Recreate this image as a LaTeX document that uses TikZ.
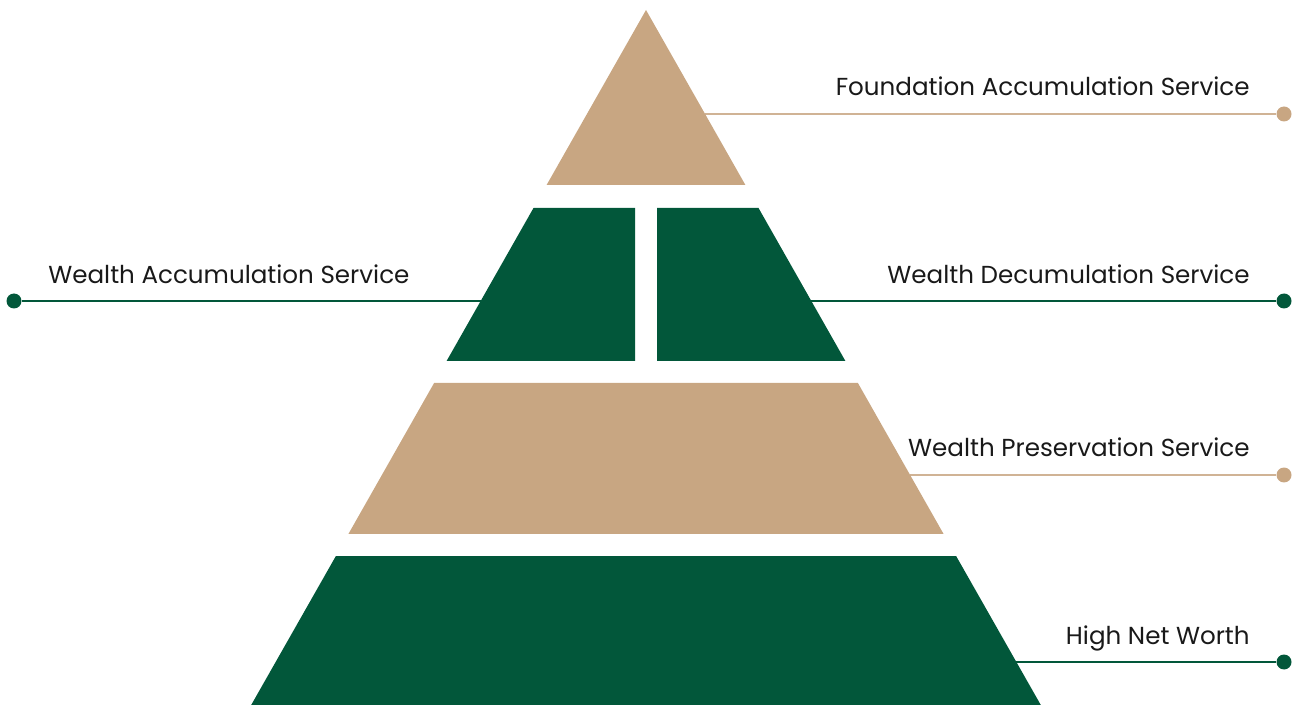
\documentclass[tikz,border=0pt]{standalone}
\usepackage{fontspec}
\setmainfont{Poppins}
\usetikzlibrary{positioning, calc}
\definecolor{sand}{HTML}{C8A682}
\definecolor{forest}{HTML}{02573A}

\begin{document}
\begin{tikzpicture}[x=0.02cm, y=-0.02cm,
    lbl/.style={font=\fontsize{14}{16}\selectfont, inner sep=0pt, text=black!90},
    dot/.style={circle, fill=#1, minimum size=0.3cm, inner sep=0pt},
    lead/.style={draw=#1, line width=0.7pt}]
\useasboundingbox (0,0) rectangle (1298,705);

% Attach points on the pyramid edges
\coordinate (fasedge) at (705,114);
\coordinate (waedge) at (481,301);
\coordinate (wdedge) at (811,301);
\coordinate (wpedge) at (910,475);
\coordinate (hnwedge) at (1016,662);

% Draw the dots
\node[dot=sand] (fasdot) at (1284,114) {};
\node[dot=forest] (wadot) at (14,301) {};
\node[dot=forest] (wddot) at (1284,301) {};
\node[dot=sand] (wpdot) at (1284,475) {};
\node[dot=forest] (hnwdot) at (1284,662) {};

% Connect dots with the tiers
\path[lead=sand!85] (fasdot) -- (fasedge);
\path[lead=forest] (wadot) -- (waedge);
\path[lead=forest] (wddot) -- (wdedge);
\path[lead=sand!85] (wpdot) -- (wpedge);
\path[lead=forest] (hnwdot) -- (hnwedge);

% Draw the tiers
\fill[sand] (646,10) -- (745.4,185) -- (546.6,185) -- cycle;
\fill[forest] (533.5,208) -- (635,208) -- (635,361) -- (446.6,361) -- cycle;
\fill[forest] (657,208) -- (758.5,208) -- (845.4,361) -- (657,361) -- cycle;
\fill[sand] (434.1,383) -- (857.9,383) -- (943.6,534) -- (348.4,534) -- cycle;
\fill[forest] (335.9,556) -- (956.1,556) -- (1040.8,705) -- (251.2,705) -- cycle;

% Labels
\node[lbl, anchor=base east] (fas) at (1250,96) {Foundation Accumulation Service};
\node[lbl, anchor=base west] (wa) at (48,284) {Wealth Accumulation Service};
\node[lbl, anchor=base east] (wd) at (1250,284) {Wealth Decumulation Service};
\node[lbl, anchor=base east] (wp) at (1250,457) {Wealth Preservation Service};
\node[lbl, anchor=base east] (hnw) at (1250,644) {High Net Worth};
\end{tikzpicture}
\end{document}
